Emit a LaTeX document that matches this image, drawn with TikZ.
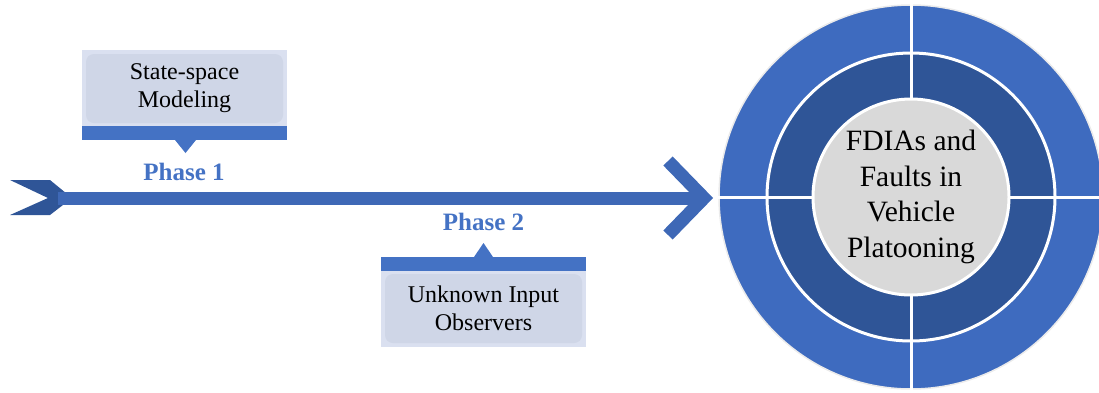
\documentclass[tikz,border=0pt]{standalone}
\usepackage{fontspec}
\setmainfont{Liberation Serif}
\usepackage{tikz}
\definecolor{barblue}{HTML}{4472C4}
\definecolor{shaftblue}{HTML}{3E68B6}
\definecolor{deepblue}{HTML}{2F5597}
\definecolor{ringblue}{HTML}{3E6BBF}
\definecolor{panelbg}{HTML}{DAE0F0}
\definecolor{cardbg}{HTML}{CFD6E7}
\definecolor{hubgray}{HTML}{D9D9D9}
\tikzset{panel/.style={fill=panelbg},card/.style={fill=cardbg,rounded corners=8pt,minimum width=197pt,minimum height=69pt,align=center,font=\fontsize{24}{28}\selectfont},bar/.style={fill=barblue},phase/.style={text=barblue,font=\bfseries\fontsize{25}{30}\selectfont},shaft/.style={draw=shaftblue,line width=13pt},barb/.style={draw=shaftblue,line width=13pt,miter limit=4},sep/.style={draw=white,line width=3pt}}

\begin{document}
\begin{tikzpicture}[x=1pt,y=-1pt]
\useasboundingbox (0,0) rectangle (1099,392);
% phase 1 box
\fill[panel] (82,50) rectangle (287,126);
\node[card] (ssm) at (184.5,88.5) {State-space\\Modeling};
\fill[bar] (82,126) rectangle (287,140);
\fill[bar] (175,140) -- (196,140) -- (185.5,153) -- cycle;
\node[phase] (p1) at (184,172) {Phase 1};
% phase 2 box
\fill[bar] (381,257) rectangle (586,271);
\fill[bar] (474,257) -- (493,257) -- (483.5,243) -- cycle;
\fill[panel] (381,271) rectangle (586,347);
\node[card] (uio) at (483.5,308.5) {Unknown Input\\Observers};
\node[phase] (p2) at (483.5,222) {Phase 2};
% main arrow
\coordinate (tail) at (58,198);
\coordinate (tip) at (704,198);
\fill[deepblue] (10,180) -- (50,180) -- (72,198) -- (50,215) -- (10,215) -- (48,198) -- cycle;
\draw[shaft] (tail) -- (tip);
\draw[barb] ([shift={(-36,-37)}]tip) -- (tip) -- ([shift={(-36,37)}]tip);
% target circle
\coordinate (c) at (911,197);
\fill[ringblue,draw=black!8,line width=1.5pt] (c) circle[radius=192pt];
\fill[deepblue,draw=white,line width=3pt] (c) circle[radius=144pt];
\draw[sep] ([yshift=193pt]c) -- ([yshift=-193pt]c);
\draw[sep] ([xshift=-193pt]c) -- ([xshift=193pt]c);
\node[circle,fill=hubgray,draw=white,line width=3pt,minimum size=196pt,inner sep=0pt,align=center,font=\fontsize{29.5}{35.5}\selectfont] (hub) at (c) {FDIAs and\\Faults in\\Vehicle\\Platooning};
\end{tikzpicture}
\end{document}
